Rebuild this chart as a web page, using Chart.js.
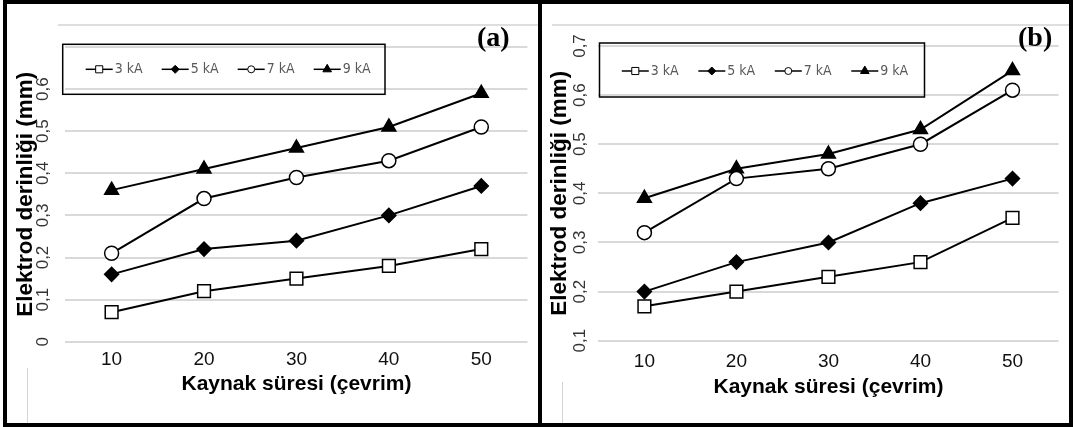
<!DOCTYPE html>
<html>
<head>
<meta charset="utf-8">
<script src="https://cdn.jsdelivr.net/npm/chart.js@4.4.1/dist/chart.umd.min.js"></script>
<style>
  html, body { margin: 0; padding: 0; background: #fff; }
  #page { position: relative; width: 1073px; height: 427px; overflow: hidden; background: #fff; }
  #frame { position: absolute; left: 3px; top: 0; width: 1070px; height: 427px; background: #000; }
  .panel { position: absolute; top: 4px; height: 419px; background: #fff; }
  #pa { left: 7px; width: 531px; }
  #pb { left: 542px; width: 527px; }
  .panel canvas { position: absolute; left: 0; top: 0; }
  .band { position: absolute; top: 20px; height: 2px; background: #dedede; }
  .scan { position: absolute; width: 1px; background: #d4d4d4; }
  .tag { position: absolute; top: 19px; font: bold 28px/28px 'Liberation Serif', 'Times New Roman', serif; color: #000; }
</style>
</head>
<body>
<div id="page">
  <div id="frame"></div>
  <div class="panel" id="pa">
    <div class="band" style="left:51px; right:0;"></div>
    <div class="scan" style="left:20px; top:364px; height:55px;"></div>
    <canvas id="chartA" width="531" height="419"></canvas>
    <div class="tag" style="left:470px;">(a)</div>
  </div>
  <div class="panel" id="pb">
    <div class="band" style="left:10px; right:0;"></div>
    <div class="scan" style="left:20px; top:378px; height:41px;"></div>
    <canvas id="chartB" width="527" height="419"></canvas>
    <div class="tag" style="left:476px;">(b)</div>
  </div>
</div>
<script>
// kaynak süresi (çevrim)
const cycles = ['10', '20', '30', '40', '50'];
const seriesNames = ['3 kA', '5 kA', '7 kA', '9 kA'];

// (a) elektrod derinliği (mm)
const a3kA = [0.07, 0.12, 0.15, 0.18, 0.22];
const a5kA = [0.16, 0.22, 0.24, 0.30, 0.37];
const a7kA = [0.21, 0.34, 0.39, 0.43, 0.51];
const a9kA = [0.36, 0.41, 0.46, 0.51, 0.59];

// (b) elektrod derinliği (mm)
const b3kA = [0.17, 0.20, 0.23, 0.26, 0.35];
const b5kA = [0.20, 0.26, 0.30, 0.38, 0.43];
const b7kA = [0.32, 0.43, 0.45, 0.50, 0.61];
const b9kA = [0.39, 0.45, 0.48, 0.53, 0.65];

const yRangeA = [0, 0.7];
const yRangeB = [0.1, 0.7];
const yStep = 0.1;

const FONT = "'Liberation Sans', Arial, sans-serif";
const NARROW = "'Liberation Sans Narrow', 'DejaVu Sans Condensed', 'Arial Narrow', sans-serif";

// marker look per series: style, radius, fill (lr = size in the legend)
const markers = [
  { style: 'rect', r: 9, fill: '#fff', lr: 5 },
  { style: 'rectRot', r: 7, fill: '#000', lr: 4 },
  { style: 'circle', r: 7, fill: '#fff', lr: 3.5 },
  { style: 'triangle', r: 8, fill: '#000', lr: 5 }
];

// legend in a plain box, line + marker + text, like the excel one
const boxLegend = {
  id: 'boxLegend',
  afterDatasetsDraw(chart, args, o) {
    const ctx = chart.ctx;
    ctx.save();
    ctx.strokeStyle = '#000';
    ctx.lineWidth = 1.5;
    ctx.strokeRect(o.x, o.y, o.w, o.h);
    ctx.font = o.font;
    ctx.textBaseline = 'middle';
    chart.data.datasets.forEach((ds, i) => {
      const x0 = o.startX + i * o.pitch;
      ctx.strokeStyle = '#000';
      ctx.lineWidth = 1.5;
      ctx.beginPath();
      ctx.moveTo(x0, o.cy);
      ctx.lineTo(x0 + o.lineLen, o.cy);
      ctx.stroke();
      ctx.fillStyle = ds.pointBackgroundColor;
      ctx.lineWidth = 1;
      Chart.helpers.drawPoint(ctx, { pointStyle: ds.pointStyle, radius: markers[i].lr, borderWidth: 1 },
        x0 + o.lineLen / 2, o.cy);
      ctx.fillStyle = o.color;
      ctx.fillText(ds.label, x0 + o.lineLen + 2, o.cy);
    });
    ctx.restore();
  }
};

function fmt(v) {
  return v === 0 ? '0' : v.toFixed(1).replace('.', ',');
}

function makeChart(id, values, range, P) {
  const datasets = values.map((vals, i) => ({
    label: seriesNames[i],
    data: vals,
    borderColor: '#000',
    borderWidth: 2,
    tension: 0,
    pointStyle: markers[i].style,
    pointRadius: markers[i].r,
    pointBackgroundColor: markers[i].fill,
    pointBorderColor: '#000',
    pointBorderWidth: 1.5
  }));

  return new Chart(document.getElementById(id), {
    type: 'line',
    data: { labels: cycles, datasets: datasets },
    plugins: [boxLegend],
    options: {
      responsive: false,
      animation: false,
      devicePixelRatio: 1,
      layout: { padding: { left: 0, top: P.top, right: P.right, bottom: 0 } },
      plugins: {
        legend: { display: false },
        tooltip: { enabled: false },
        boxLegend: P.legend
      },
      scales: {
        x: {
          offset: true,
          grid: { display: false, drawTicks: false },
          border: { display: false },
          ticks: { font: { family: FONT, size: 19 }, color: '#111', padding: P.xTickPad, maxRotation: 0, autoSkip: false },
          title: {
            display: true, text: 'Kaynak süresi (çevrim)', color: '#000',
            font: { family: FONT, size: 21, weight: 'bold' },
            padding: { top: 0, bottom: P.xTitlePad }
          },
          afterFit(s) { s.height = P.xAxisH; }
        },
        y: {
          min: range[0],
          max: range[1],
          grid: { color: '#d9d9d9', lineWidth: 2, drawTicks: false },
          border: { display: false },
          ticks: {
            stepSize: yStep,
            minRotation: 90, maxRotation: 90,
            crossAlign: 'center',
            padding: P.yTickPad,
            font: { family: FONT, size: 17 },
            color: '#333',
            callback: (v) => (P.hideTop && v > range[1] - 0.05) ? '' : fmt(v)
          },
          title: {
            display: true, text: 'Elektrod derinliği (mm)', color: '#000',
            font: { family: FONT, size: 22.5, weight: 'bold' },
            padding: { top: P.yTitlePad, bottom: 0 }
          },
          afterFit(s) { s.width = P.yAxisW; }
        }
      }
    }
  });
}

makeChart('chartA', [a3kA, a5kA, a7kA, a9kA], yRangeA, {
  top: 43, right: 9.4, yAxisW: 58.4, xAxisH: 81.3,
  xTickPad: 7, xTitlePad: 26.4, yTickPad: 10, yTitlePad: 5.3, hideTop: true,
  legend: { x: 55.7, y: 40.3, w: 322.3, h: 50, startX: 78.7, pitch: 76, lineLen: 27, cy: 65.3,
            font: '14px ' + NARROW, color: '#595959' }
});

makeChart('chartB', [b3kA, b5kA, b7kA, b9kA], yRangeB, {
  top: 42, right: 7.4, yAxisW: 56.4, xAxisH: 82.3,
  xTickPad: 9.4, xTitlePad: 23.4, yTickPad: 6.5, yTitlePad: 4, hideTop: false,
  legend: { x: 57.5, y: 39, w: 325, h: 54, startX: 79.8, pitch: 76.5, lineLen: 27, cy: 67,
            font: '14px ' + NARROW, color: '#595959' }
});
</script>
</body>
</html>
